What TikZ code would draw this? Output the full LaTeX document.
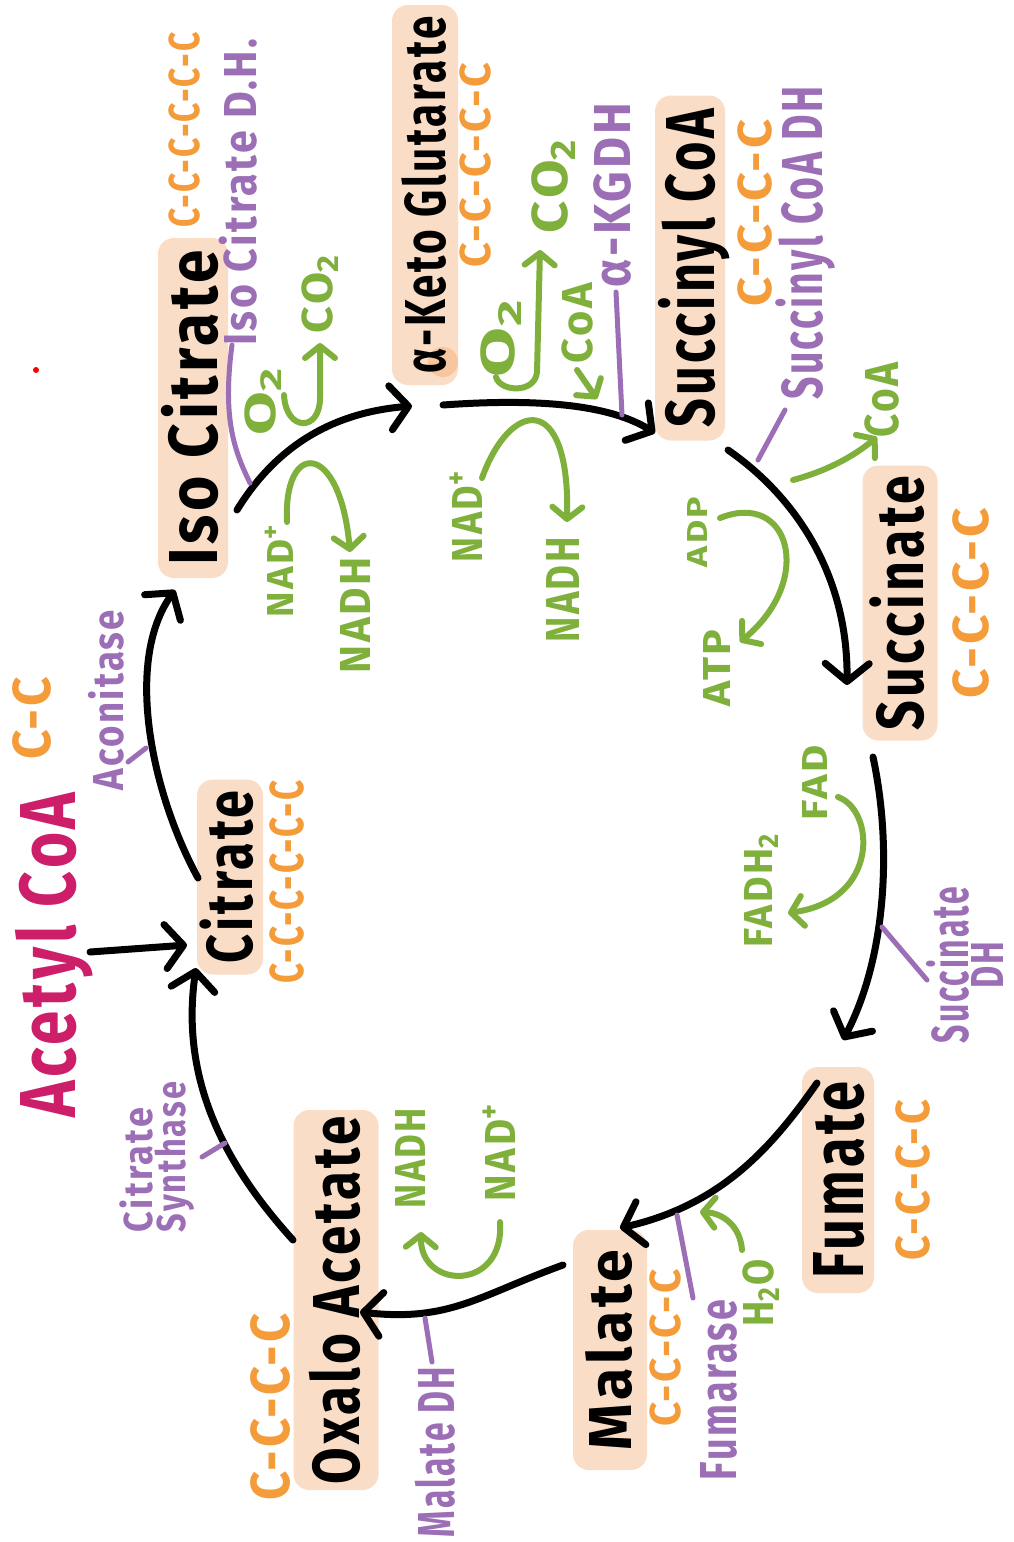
\documentclass[tikz,border=0pt]{standalone}
\usepackage{fontspec}
\setmainfont{Fira Sans}[LetterSpace=6]
\usepackage{graphicx}
\usetikzlibrary{arrows.meta,calc}
\definecolor{peach}{RGB}{250,221,198}
\definecolor{blobc}{RGB}{253,229,204}
\definecolor{orng}{RGB}{244,155,58}
\definecolor{purp}{RGB}{155,110,182}
\definecolor{grn}{RGB}{128,176,60}
\definecolor{mgnt}{RGB}{205,30,105}
% scale a label to a given length and cap height
\newcommand\fitbox[3]{\resizebox{#1pt}{#2pt}{\raisebox{0pt}[\fontcharht\font`X][0pt]{#3}}}
\tikzset{
  stage/.style={fill=peach, rounded corners=16pt, rotate=90, inner sep=0pt, text=black, font=\bfseries},
  carbon/.style={rotate=90, text=orng, inner sep=0pt, font=\bfseries},
  enz/.style={rotate=90, text=purp, inner sep=0pt, font=\bfseries},
  mol/.style={rotate=90, text=grn, inner sep=0pt, font=\bfseries},
  cyc/.style={draw=black, line width=7pt, line cap=round, line join=round,
    -{Straight Barb[length=18pt,width=44pt,round]}},
  gar/.style={draw=grn, line width=6pt, line cap=round, line join=round,
    -{Straight Barb[length=12pt,width=30pt,round]}},
  tick/.style={draw=purp, line width=5pt, line cap=round},
}
\begin{document}
\begin{tikzpicture}[x=1pt,y=-1pt]
\useasboundingbox (0,0) rectangle (1013,1542);
\fill[white] (0,0) rectangle (1013,1542);
\fill[red] (36,370) circle (3pt);

% intermediates of the cycle
\node[stage, minimum width=340pt, minimum height=70pt] (iso) at (193,408) {\fitbox{315}{48}{Iso Citrate}};
\node[stage, minimum width=380pt, minimum height=66pt] (akg) at (425,195) {\fitbox{357}{40}{α-Keto Glutarate}};
\fill[blobc, blend mode=multiply] (443,362) circle (15pt);
\node[stage, minimum width=345pt, minimum height=70pt] (scoa) at (690,268) {\fitbox{318}{48}{Succinyl CoA}};
\node[stage, minimum width=275pt, minimum height=75pt] (succ) at (900,603) {\fitbox{254}{46}{Succinate}};
\node[stage, minimum width=226pt, minimum height=72pt] (fum) at (838,1180) {\fitbox{197}{50}{Fumate}};
\node[stage, minimum width=240pt, minimum height=74pt] (mal) at (610,1350) {\fitbox{200}{42}{Malate}};
\node[stage, minimum width=380pt, minimum height=85pt] (oxa) at (336,1300) {\fitbox{368}{46}{Oxalo Acetate}};
\node[stage, minimum width=195pt, minimum height=66pt] (cit) at (230,877) {\fitbox{173}{45}{Citrate}};
\node[rotate=90, inner sep=0pt, text=mgnt, font=\bfseries] (acoa) at (48,955) {\fitbox{325}{55}{Acetyl CoA}};

% carbon skeletons
\node[carbon] (cIso) at (184,130) {\fitbox{195}{30}{C-C-C-C-C-C}};
\node[carbon] (cAkg) at (475,165) {\fitbox{204}{30}{C-C-C-C-C}};
\node[carbon] (cScoa) at (755,213) {\fitbox{187}{33}{C-C-C-C}};
\node[carbon] (cSucc) at (971,603) {\fitbox{190}{35}{C-C-C-C}};
\node[carbon] (cFum) at (913,1180) {\fitbox{160}{33}{C-C-C-C}};
\node[carbon] (cMal) at (665,1348) {\fitbox{157}{30}{C-C-C-C}};
\node[carbon] (cOxa) at (270,1407) {\fitbox{187}{38}{C-C-C-C}};
\node[carbon] (cCit) at (287,882) {\fitbox{203}{33}{C-C-C-C-C-C}};
\node[carbon] (cAcoa) at (32,718) {\fitbox{83}{37}{C-C}};

% enzymes
\node[enz] (isodh) at (240,192) {\fitbox{307}{32}{Iso Citrate D.H.}};
\node[enz] (acon) at (108,700) {\fitbox{180}{30}{Aconitase}};
\node[enz] (kgdh) at (612,195) {\fitbox{184}{36}{α-KGDH}};
\node[enz] (scoadh) at (802,243) {\fitbox{313}{40}{Succinyl CoA DH}};
\node[enz, align=center] (sdh) at (968,965) {\fitbox{156}{36}{Succinate}\\[2pt]\fitbox{47}{32}{DH}};
\node[enz, align=left] (cs) at (155,1157) {\fitbox{124}{28}{Citrate}\\[4pt]\fitbox{150}{28}{Synthase}};
\node[enz] (mdh) at (436,1452) {\fitbox{170}{36}{Malate DH}};
\node[enz] (fumase) at (718,1390) {\fitbox{180}{36}{Fumarase}};

% cofactors
\node[mol] (o2a) at (260,400) {\fitbox{70}{30}{O\textsubscript{2}}};
\node[mol] (co2a) at (317,293) {\fitbox{80}{30}{CO\textsubscript{2}}};
\node[mol] (nadA) at (280,570) {\fitbox{94}{26}{NAD\textsuperscript{+}}};
\node[mol] (nadhA) at (355,615) {\fitbox{116}{30}{NADH}};
\node[mol] (o2b) at (498,337) {\fitbox{80}{33}{O\textsubscript{2}}};
\node[mol] (co2b) at (550,185) {\fitbox{96}{35}{CO\textsubscript{2}}};
\node[mol] (coab) at (577,323) {\fitbox{80}{30}{CoA}};
\node[mol] (nadB) at (467,516) {\fitbox{92}{30}{NAD\textsuperscript{+}}};
\node[mol] (nadhB) at (563,590) {\fitbox{105}{33}{NADH}};
\node[mol] (coac) at (882,400) {\fitbox{75}{33}{CoA}};
\node[mol] (adp) at (697,532) {\fitbox{70}{20}{ADP}};
\node[mol] (atp) at (717,668) {\fitbox{77}{27}{ATP}};
\node[mol] (fad) at (815,783) {\fitbox{75}{25}{FAD}};
\node[mol] (fadh) at (758,890) {\fitbox{115}{28}{FADH\textsubscript{2}}};
\node[mol] (h2o) at (758,1293) {\fitbox{67}{30}{H\textsubscript{2}O}};
\node[mol] (nadhC) at (410,1158) {\fitbox{100}{30}{NADH}};
\node[mol] (nadC) at (500,1152) {\fitbox{98}{30}{NAD\textsuperscript{+}}};

% free ends of side arrows
\coordinate (coaout) at (793,480);
\coordinate (h2oin) at (700,1212);
\coordinate (coain) at (597,399);

% the cycle
\draw[cyc] ($(cit)+(-32,1)$) .. controls (150,790) and (125,660) .. ($(iso)+(-18,182)$);
\draw[cyc] ($(iso)+(44,102)$) .. controls (280,440) and (340,412) .. ($(akg)+(-13,211)$);
\draw[cyc] ($(akg)+(18,210)$) .. controls (540,398) and (610,405) .. ($(scoa)+(-35,165)$);
\draw[cyc] ($(scoa)+(38,182)$) .. controls (800,500) and (848,580) .. ($(succ)+(-53,82)$);
\draw[cyc] ($(succ)+(-27,154)$) .. controls (893,850) and (885,960) .. ($(fum)+(5,-140)$);
\draw[cyc] ($(fum)+(-21,-97)$) .. controls (770,1150) and (720,1205) .. ($(mal)+(10,-122)$);
\draw[cyc] ($(mal)+(-47,-85)$) .. controls (480,1295) and (450,1322) .. ($(oxa)+(24,12)$);
\draw[cyc] ($(oxa)+(-43,-60)$) .. controls (225,1165) and (180,1080) .. ($(cit)+(-34,91)$);
\draw[cyc] ($(acoa)+(42,-3)$) -- ($(cit)+(-43,68)$);

% cofactor arrows
\draw[gar] ($(nadA)+(7,-48)$) .. controls (283,440) and (340,440) .. ($(nadhA)+(-5,-63)$);
\draw[gar] ($(o2a)+(24,-5)$) .. controls (286,432) and (320,432) .. (320,398) -- ($(co2a)+(3,50)$);
\draw[gar] ($(o2b)+(-2,40)$) .. controls (500,392) and (535,394) .. (537,372) -- ($(co2b)+(-10,65)$);
\draw[gar] ($(coab)+(0,47)$) -- (coain);
\draw[gar] ($(nadB)+(15,-38)$) .. controls (510,400) and (570,390) .. ($(nadhB)+(4,-68)$);
\draw[gar] (coaout) .. controls (830,470) and (855,455) .. ($(coac)+(-5,37)$);
\draw[gar] ($(adp)+(23,-14)$) .. controls (790,490) and (815,580) .. ($(atp)+(23,-26)$);
\draw[gar] ($(fad)+(23,14)$) .. controls (875,810) and (880,900) .. ($(fadh)+(30,23)$);
\draw[gar] ($(h2o)+(-16,-43)$) .. controls (740,1225) and (722,1213) .. (h2oin);
\draw[gar] ($(nadC)+(0,70)$) .. controls (505,1292) and (420,1290) .. ($(nadhC)+(11,74)$);

% enzyme pointers
\draw[tick] ($(isodh)+(-8,153)$) .. controls (222,420) and (235,452) .. (250,483);
\draw[tick] ($(acon)+(20,62)$) -- ($(acon)+(38,48)$);
\draw[tick] ($(kgdh)+(4,97)$) -- ($(kgdh)+(10,220)$);
\draw[tick] ($(scoadh)+(-17,167)$) -- ($(scoadh)+(-44,217)$);
\draw[tick] ($(sdh)+(-86,-38)$) -- ($(sdh)+(-41,15)$);
\draw[tick] ($(cs)+(47,0)$) -- ($(cs)+(70,-14)$);
\draw[tick] ($(mdh)+(-4,-90)$) -- ($(mdh)+(-11,-134)$);
\draw[tick] ($(fumase)+(-25,-92)$) -- ($(fumase)+(-41,-175)$);
\end{tikzpicture}
\end{document}
